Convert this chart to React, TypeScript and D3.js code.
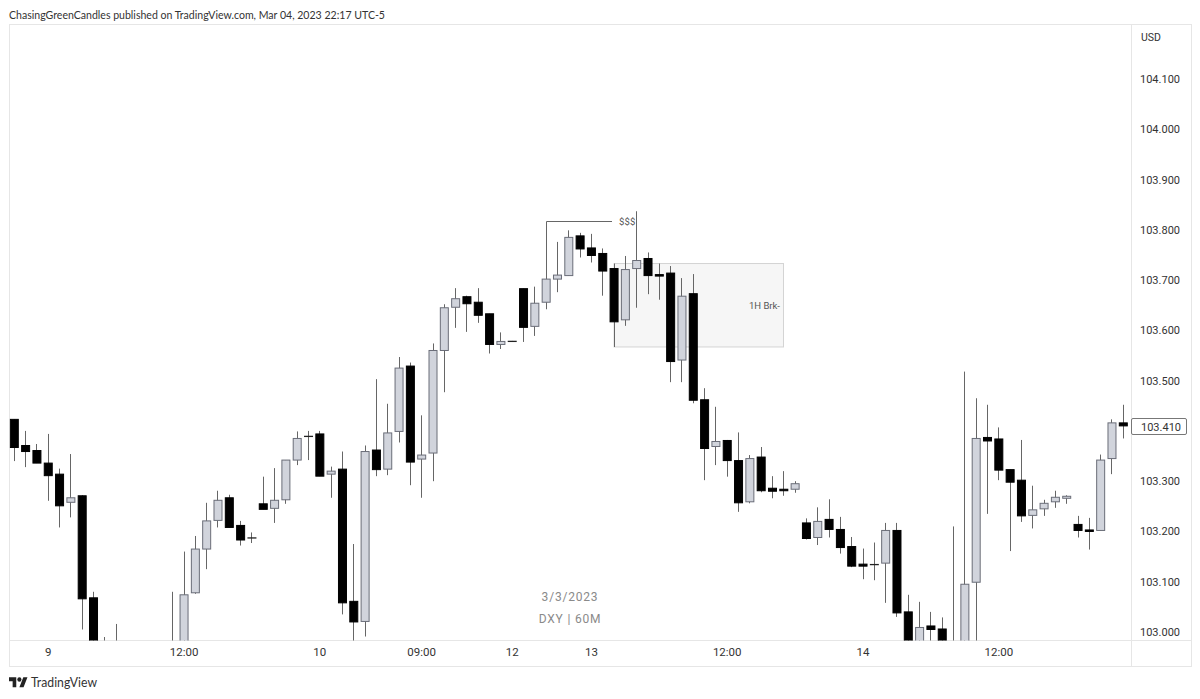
import React from "react";
import * as d3 from "d3";

const opens = [
  103.423,103.371,103.361,103.336,103.314,103.258,103.271,103.068,102.944,102.900,
  102.870,102.930,102.890,102.860,102.900,102.970,103.078,103.165,103.222,103.267,
  103.212,103.188,103.255,103.246,103.263,103.342,103.390,103.394,103.314,103.324,
  103.061,103.021,103.362,103.324,103.399,103.529,103.344,103.356,103.560,103.646,
  103.667,103.656,103.633,103.572,103.579,103.683,103.608,103.656,103.702,103.709,
  103.788,103.764,103.753,103.723,103.621,103.723,103.743,103.711,103.714,103.541,
  103.673,103.462,103.369,103.381,103.341,103.259,103.348,103.286,103.284,103.284,
  103.217,103.188,103.224,103.204,103.170,103.135,103.135,103.137,103.202,103.040,
  102.950,103.012,103.006,102.960,102.970,103.099,103.387,103.384,103.323,103.302,
  103.232,103.245,103.259,103.266,103.214,103.203,103.202,103.345,103.416,
];
const highs = [
  103.423,103.400,103.374,103.394,103.325,103.354,103.272,103.080,102.990,103.016,
  102.960,102.970,102.940,102.910,103.080,103.160,103.191,103.257,103.281,103.273,
  103.221,103.198,103.309,103.326,103.342,103.399,103.400,103.400,103.329,103.359,
  103.175,103.371,103.503,103.454,103.547,103.536,103.431,103.574,103.652,103.684,
  103.669,103.684,103.633,103.596,103.579,103.683,103.687,103.702,103.776,103.799,
  103.794,103.792,103.763,103.733,103.748,103.837,103.755,103.733,103.728,103.704,
  103.712,103.485,103.448,103.382,103.397,103.352,103.368,103.310,103.320,103.300,
  103.226,103.248,103.264,103.229,103.189,103.166,103.178,103.217,103.217,103.074,
  103.060,103.040,103.029,103.210,103.518,103.465,103.452,103.407,103.323,103.382,
  103.291,103.263,103.281,103.272,103.231,103.227,103.353,103.423,103.452,
];
const lows = [
  103.340,103.328,103.336,103.261,103.208,103.228,103.005,102.924,102.860,102.850,
  102.840,102.870,102.830,102.850,102.880,102.950,103.076,103.125,103.208,103.208,
  103.172,103.177,103.244,103.217,103.255,103.332,103.342,103.310,103.267,103.035,
  102.974,102.991,103.310,103.312,103.377,103.292,103.267,103.300,103.477,103.605,
  103.597,103.615,103.554,103.563,103.578,103.577,103.589,103.642,103.676,103.709,
  103.745,103.735,103.669,103.567,103.609,103.645,103.672,103.661,103.497,103.497,
  103.455,103.302,103.332,103.309,103.239,103.256,103.278,103.266,103.271,103.277,
  103.184,103.173,103.188,103.156,103.129,103.105,103.103,103.058,103.030,102.920,
  102.930,102.974,102.950,102.940,102.950,102.960,103.235,103.302,103.161,103.219,
  103.206,103.231,103.247,103.255,103.188,103.164,103.202,103.314,103.385,
];
const closes = [
  103.367,103.359,103.336,103.311,103.251,103.267,103.066,102.944,102.900,102.870,
  102.930,102.890,102.860,102.900,102.970,103.074,103.165,103.221,103.262,103.208,
  103.183,103.187,103.244,103.262,103.342,103.385,103.389,103.310,103.320,103.058,
  103.020,103.359,103.323,103.396,103.525,103.338,103.352,103.560,103.645,103.663,
  103.653,103.630,103.572,103.578,103.578,103.606,103.654,103.702,103.710,103.785,
  103.762,103.749,103.718,103.617,103.721,103.739,103.709,103.708,103.538,103.668,
  103.461,103.365,103.379,103.341,103.257,103.345,103.281,103.280,103.281,103.295,
  103.186,103.220,103.204,103.168,103.131,103.131,103.133,103.202,103.038,102.944,
  103.009,103.005,102.965,102.980,103.095,103.385,103.380,103.322,103.298,103.231,
  103.243,103.256,103.268,103.270,103.202,103.200,103.342,103.416,103.410,
];

const priceTicks = [
  "103.000","103.100","103.200","103.300","103.400","103.500","103.600",
  "103.700","103.800","103.900","104.000","104.100",
];
const timeTicks: [number, string][] = [
  [3, "9"],[15, "12:00"],[27, "10"],[36, "09:00"],[44, "12"],[51, "13"],
  [63, "12:00"],[75, "14"],[87, "12:00"],
];
const header = "ChasingGreenCandles published on TradingView.com, Mar 04, 2023 22:17 UTC-5";
const lastPrice = "103.410";
const zoneTop = 103.733;
const zoneBottom = 103.567;
const zoneFrom = 53;
const zoneToX = 783.5;
const sweepStart = 47;
const sweepPrice = 103.8185;

const W = 1200;
const H = 699;
const left = 9.5;
const right = 1131.5;
const top = 24.5;
const bottom = 640.5;
const frameRight = 1191.5;
const frameBottom = 666.5;
const font = "Roboto, sans-serif";

const x = d3.scaleLinear().domain([0, 98]).range([14.3, 1123.3]);
const y = d3.scaleLinear().domain([103, 104]).range([632, 129.3]);
const fmt = (n: number) => Math.round(n) + 0.5;

export default function App() {
  return (
    <svg width={W} height={H} viewBox={`0 0 ${W} ${H}`}
      style={{ position: "absolute", left: 0, top: 0, background: "#fff" }}>
      <defs>
        <clipPath id="plot"><rect x={left} y={top} width={right - left} height={bottom - top} /></clipPath>
      </defs>
      <text x={9} y={18.5} fontFamily="Lato, sans-serif" fontSize={11.5} textLength={376} lengthAdjust="spacingAndGlyphs" fill="#333">{header}</text>

      <rect x={left} y={top} width={frameRight - left} height={frameBottom - top} fill="#fff" stroke="#e6e6e6" />
      <line x1={left} x2={frameRight} y1={bottom} y2={bottom} stroke="#e6e6e6" />
      <line x1={right} x2={right} y1={top} y2={frameBottom} stroke="#e6e6e6" />

      <g clipPath="url(#plot)">
        <rect x={x(zoneFrom)} y={y(zoneTop)} width={zoneToX - x(zoneFrom)} height={y(zoneBottom) - y(zoneTop)}
          fill="#f6f6f6" stroke="#d4d4d4" />
        <path d={`M${fmt(x(sweepStart))},${y(closes[sweepStart])}V${fmt(y(sweepPrice))}H612`} fill="none" stroke="#666" />
        {opens.map((o, i) => {
          const c = closes[i];
          const up = c > o;
          const cx = x(i);
          const yTop = y(Math.max(o, c));
          const yBot = y(Math.min(o, c));
          const wx = fmt(cx - 0.5);
          const thin = yBot - yTop < 1.2;
          return (
            <g key={i}>
              <line x1={wx} x2={wx} y1={y(highs[i])} y2={y(lows[i])} stroke="#666" />
              {thin ? (
                <rect x={cx - 4.5} y={yTop - 0.2} width={9} height={1.3} fill="#222" />
              ) : (
                <rect x={cx - 4} y={yTop} width={8} height={yBot - yTop}
                  fill={up ? "#d1d4dc" : "#000"} stroke={up ? "#6a6d78" : "#000"} />
              )}
            </g>
          );
        })}
      </g>

      <text x={619} y={224.5} fontFamily={font} fontSize={9.5} letterSpacing={0.1} fill="#555">$$$</text>
      <text x={780} y={309} textAnchor="end" fontFamily={font} fontSize={9.5} fill="#555">1H Brk-</text>
      <text x={570} y={601} textAnchor="middle" fontFamily={font} fontSize={12} letterSpacing={0.8} fill="#8a8a8a">3/3/2023</text>
      <text x={570} y={623} textAnchor="middle" fontFamily={font} fontSize={12} letterSpacing={0.8} fill="#8a8a8a">DXY | 60M</text>

      <text x={1141} y={41} fontFamily={font} fontSize={10.5} fill="#333">USD</text>
      {priceTicks.map((t) => (
        <text key={t} x={1140} y={y(+t) + 4} fontFamily={font} fontSize={11} fill="#333">{t}</text>
      ))}
      <rect x={right} y={418.5} width={55} height={16} rx={1.5} fill="#fff" stroke="#777" />
      <text x={1141} y={430.5} fontFamily={font} fontSize={11} fill="#333">{lastPrice}</text>

      {timeTicks.map(([i, t]) => (
        <text key={i + t} x={x(i)} y={656} textAnchor="middle" fontFamily={font} fontSize={11.5} fill="#333">{t}</text>
      ))}

      <g transform="translate(9,675) scale(0.52,0.56)" fill="#222">
        <path d="M14 22H7V11H0V4h14v18zM28 22h-8l7.5-18h8L28 22z" />
        <circle cx={20} cy={8} r={4} />
      </g>
      <text x={31} y={687} fontFamily="Lato, sans-serif" fontSize={13} textLength={66} lengthAdjust="spacingAndGlyphs" fill="#333">TradingView</text>
    </svg>
  );
}
